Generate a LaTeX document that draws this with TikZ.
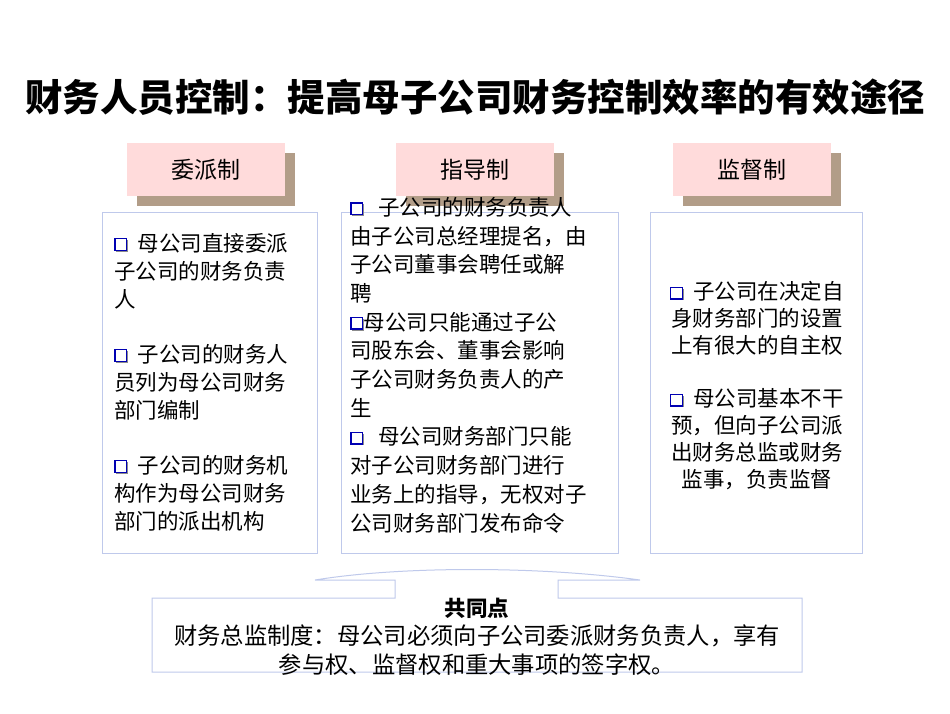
\documentclass[tikz,border=0pt]{standalone}
\usepackage{fontspec}
\setmainfont{Noto Sans CJK SC}
\newcommand\qbox{\tikz[baseline=-1pt,x=1pt,y=1pt]{\fill[black!45] (1.5pt,-1.5pt) rectangle (13pt,10pt);\draw[blue!70!black,line width=1.4pt,fill=white] (0,0) rectangle (11.5pt,11.5pt);}}
\begin{document}
\begin{tikzpicture}[x=1pt,y=-1pt,
  hdr/.style={fill=pink!70!red!30,minimum width=158pt,minimum height=53pt,font=\fontsize{23}{26}\selectfont,inner sep=0},
  shd/.style={fill=brown!60!black!55!white},
  cbox/.style={draw=cyan!40!blue!25,line width=1pt},
  body/.style={font=\fontsize{21.5}{28}\selectfont,inner sep=0}]
\useasboundingbox (0,0) rectangle (950,713);
\node[font=\fontsize{37.5}{40}\selectfont\bfseries] (title) at (475,97) {财务人员控制：提高母子公司财务控制效率的有效途径};
% content boxes
\draw[cbox] (102,212) rectangle (317,553);
\draw[cbox] (341,212) rectangle (618,553);
\draw[cbox] (650,212) rectangle (862,553);
% headers
\foreach \x/\t/\n in {127/委派制/h1,396/指导制/h2,673/监督制/h3}{
  \fill[shd] (\x+10,153) rectangle (\x+168,206);
  \node[hdr,anchor=north west] (\n) at (\x,143) {\t};
}
\node[body,anchor=north west,align=left] (l) at (114,233) {\qbox\ \ 母公司直接委派\\子公司的财务负责\\人\\[27pt]\qbox\ \ 子公司的财务人\\员列为母公司财务\\部门编制\\[27pt]\qbox\ \ 子公司的财务机\\构作为母公司财务\\部门的派出机构};
\node[body,anchor=north west,align=left,font=\fontsize{21.5}{28.7}\selectfont] (m) at (350,197) {\qbox\ \ \ 子公司的财务负责人\\由子公司总经理提名，由\\子公司董事会聘任或解\\聘\\\qbox 母公司只能通过子公\\司股东会、董事会影响\\子公司财务负责人的产\\生\\\qbox\ \ \ 母公司财务部门只能\\对子公司财务部门进行\\业务上的指导，无权对子\\公司财务部门发布命令};
\node[body,align=center,font=\fontsize{21.5}{27}\selectfont] (r) at (757,386) {\qbox\ \ 子公司在决定自\\身财务部门的设置\\上有很大的自主权\\[26pt]\qbox\ \ 母公司基本不干\\预，但向子公司派\\出财务总监或财务\\监事，负责监督};
% callout
\draw[cbox,fill=white] (152,598) -- (395,598) -- (395,580) -- (315,580) .. controls (400,566) and (540,566) .. (640,580) -- (558,580) -- (558,598) -- (802,598) -- (802,672) -- (152,672) -- cycle;
\node[font=\fontsize{21.5}{24}\selectfont\bfseries] (cp) at (477,608) {共同点};
\node[body,align=center,font=\fontsize{23.3}{29}\selectfont] (ct) at (477,650) {财务总监制度：母公司必须向子公司委派财务负责人，享有\\参与权、监督权和重大事项的签字权。};
\end{tikzpicture}
\end{document}
